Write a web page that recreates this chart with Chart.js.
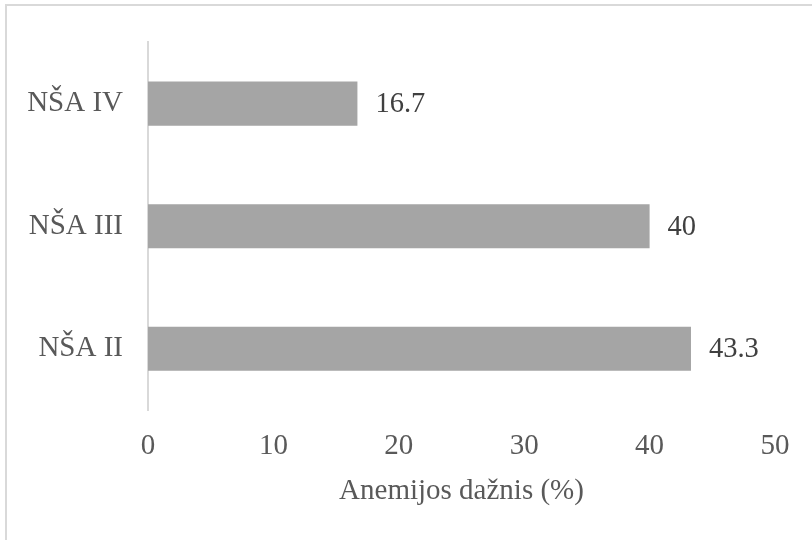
<!DOCTYPE html>
<html>
<head>
<meta charset="utf-8">
<script src="https://cdn.jsdelivr.net/npm/chart.js@4"></script>
<style>
    html, body { margin: 0; padding: 0; background: #fff; }
    #wrap { position: relative; width: 812px; height: 540px; overflow: hidden; }
    #frame {
        position: absolute; left: 5px; top: 4px; width: 900px; height: 600px;
        border-top: 2px solid #d9d9d9; border-left: 2px solid #d9d9d9;
    }
    canvas { position: absolute; left: 0; top: 0; }
</style>
</head>
<body>
<div id="wrap">
    <div id="frame"></div>
    <canvas id="chart" width="812" height="540"></canvas>
</div>
<script>
// ====== DATA ======
const categories = ['NŠA IV', 'NŠA III', 'NŠA II'];   // top to bottom
const values = [16.7, 40, 43.3];
const xTicks = [0, 10, 20, 30, 40, 50];
const axisTitle = 'Anemijos dažnis (%)';

const FONT = { family: '"Liberation Serif", "Times New Roman", serif', size: 29 };
const TEXT_GREY = '#595959';

// draws the value next to each bar (no datalabels plugin offline)
const valueLabels = {
    id: 'valueLabels',
    afterDatasetsDraw(chart) {
        const ctx = chart.ctx;
        const meta = chart.getDatasetMeta(0);
        ctx.save();
        ctx.font = `28.5px ${FONT.family}`;
        ctx.fillStyle = '#404040';
        ctx.textAlign = 'left';
        ctx.textBaseline = 'middle';
        meta.data.forEach((bar, i) => {
            ctx.fillText(String(values[i]), bar.x + 18, bar.y + 1);
        });
        ctx.restore();
    }
};

new Chart(document.getElementById('chart'), {
    type: 'bar',
    data: {
        labels: categories,
        datasets: [{
            data: values,
            backgroundColor: '#a5a5a5',
            borderWidth: 0,
            barPercentage: 0.36,
            categoryPercentage: 1
        }]
    },
    options: {
        indexAxis: 'y',
        responsive: false,
        animation: false,
        layout: { padding: { top: 40, right: 37, bottom: 20, left: 0 } },
        plugins: {
            legend: { display: false },
            tooltip: { enabled: false }
        },
        scales: {
            x: {
                min: xTicks[0],
                max: xTicks[xTicks.length - 1],
                afterBuildTicks: scale => { scale.ticks = xTicks.map(v => ({ value: v })); },
                afterFit: scale => { scale.height = 110; },
                grid: { display: false, drawTicks: false },
                border: { display: false },
                ticks: { font: FONT, color: TEXT_GREY, padding: 19, maxRotation: 0 },
                title: {
                    display: true,
                    text: axisTitle,
                    font: FONT,
                    color: TEXT_GREY,
                    padding: { top: 0, bottom: 11 }
                }
            },
            y: {
                afterFit: scale => { scale.width = 148; },
                grid: { display: false, drawTicks: false },
                border: { display: true, color: '#d9d9d9', width: 2 },
                ticks: { font: FONT, color: TEXT_GREY, padding: 25 }
            }
        }
    },
    plugins: [valueLabels]
});
</script>
</body>
</html>
